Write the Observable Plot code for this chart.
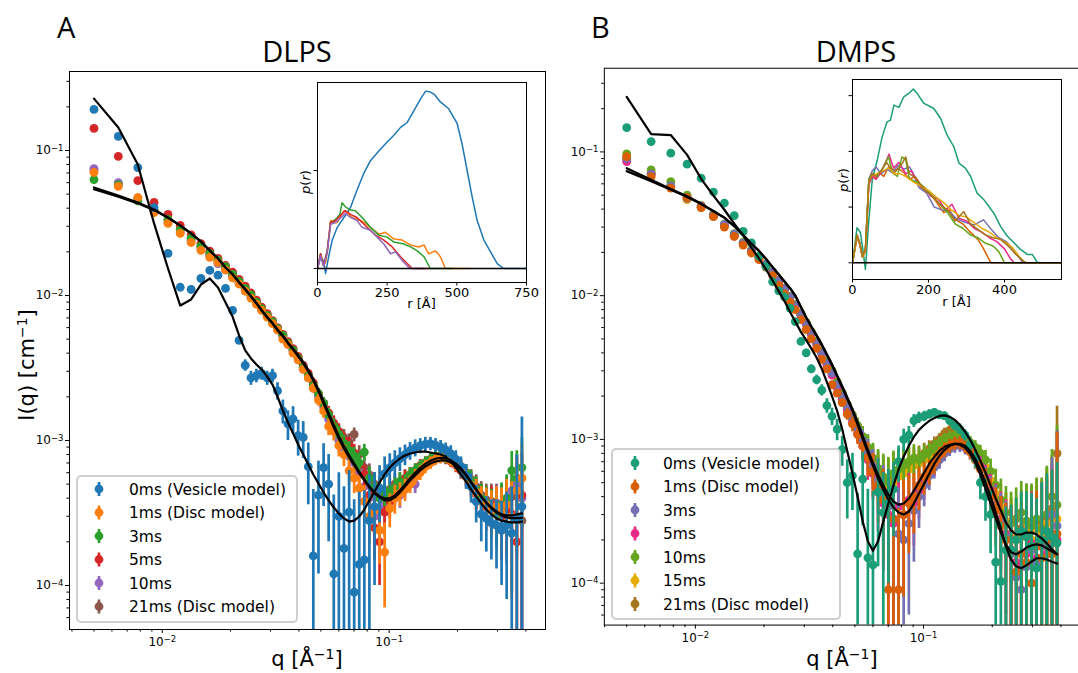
<!DOCTYPE html>
<html><head><meta charset="utf-8">
<script src="https://cdn.jsdelivr.net/npm/d3@7"></script>
<script src="https://cdn.jsdelivr.net/npm/@observablehq/plot@0.6"></script>
<style>
html,body{margin:0;padding:0;width:1078px;height:673px;overflow:hidden;background:#fff}
body{position:relative;font-family:"DejaVu Sans",sans-serif}
.abs{position:absolute}
</style></head><body>
<div id="mainA" class="abs" style="left:0;top:0"></div>
<div id="mainB" class="abs" style="left:560px;top:0"></div>
<div id="insetA" class="abs" style="left:297px;top:78px"></div>
<div id="insetB" class="abs" style="left:832px;top:75px"></div>
<div id="overlay" class="abs" style="left:0;top:0"></div>
<script>
// ---------------- DATA ----------------
const q = [0.0050,0.0064,0.0078,0.0092,0.0106,0.0120,0.0134,0.0148,0.0162,0.0176,
0.0190,0.0204,0.0218,0.0232,0.0246,0.0260,0.0274,0.0290,0.0306,0.0322,
0.0340,0.0358,0.0377,0.0397,0.0418,0.0440,0.0463,0.0488,0.0514,0.0541,
0.0570,0.0600,0.0632,0.0666,0.0701,0.0738,0.0777,0.0818,0.0862,0.0907,
0.0955,0.1006,0.1059,0.1115,0.1174,0.1236,0.1302,0.1371,0.1443,0.1520,
0.1600,0.1685,0.1774,0.1868,0.1967,0.2071,0.2181,0.2296,0.2418,0.2546,
0.2680,0.2822,0.2972,0.3129,0.3295,0.3469,0.3653,0.3846];

// Panel A (DLPS)
const namesA = ["0ms (Vesicle model)","1ms (Disc model)","3ms","5ms","10ms","21ms (Disc model)"];
const colorsA = ["#1f77b4","#ff7f0e","#2ca02c","#d62728","#9467bd","#8c564b"];
const A_0ms = [0.192,0.125,0.0763,0.0404,0.0195,0.0114,0.0110,0.0131,0.0149,0.0138,
0.0112,0.0079,0.0049,0.0033,0.0027,0.0028,0.0029,0.0027,0.0028,0.0022,
0.0016,0.0013,0.00141,0.00108,0.00105,0.00066,0.00016,0.00042,0.00065,0.00050,
0.00012,0.00030,0.00018,0.00032,0.00009,0.00014,0.00015,0.00028,0.00035,0.00047,
0.00059,0.00065,0.00070,0.00075,0.00080,0.00085,0.00089,0.00092,0.00094,0.00095,
0.00093,0.00090,0.00086,0.00081,0.00074,0.00066,0.00057,0.00048,0.00038,0.00031,
0.00029,0.00027,0.00026,0.00024,0.00026,0.00023,0.00029,0.00035];
const A_1ms = [0.0705,0.0565,0.0474,0.0373,0.0314,0.0268,0.0232,0.0205,0.0183,0.0169,
0.0150,0.0132,0.0120,0.0107,0.0096,0.0087,0.0079,0.0071,0.0064,0.0058,
0.0050,0.0046,0.0040,0.0036,0.0031,0.0027,0.0023,0.0019,0.0016,0.00125,
0.00115,0.00092,0.00080,0.00062,0.00055,0.00047,0.00038,0.00030,0.00033,0.00024,
0.00017,0.00034,0.00040,0.00043,0.00046,0.00050,0.00056,0.00060,0.00066,0.00070,
0.00074,0.00076,0.00077,0.00073,0.00069,0.00063,0.00056,0.00049,0.00044,0.00038,
0.00036,0.00033,0.00035,0.00032,0.00036,0.00030,0.00045,0.00055];
const A_3ms = [0.063,0.058,0.045,0.0385,0.0335,0.0285,0.0250,0.0220,0.0195,0.0175,
0.0158,0.0140,0.0125,0.0112,0.0101,0.0090,0.0081,0.0073,0.0066,0.0059,
0.0053,0.0047,0.0042,0.0037,0.0032,0.0028,0.0024,0.0021,0.0018,0.00150,
0.00125,0.00110,0.00095,0.00085,0.00078,0.00070,0.00083,0.00055,0.00048,0.00040,
0.00045,0.00042,0.00047,0.00052,0.00050,0.00058,0.00062,0.00066,0.00070,0.00074,
0.00077,0.00078,0.00076,0.00074,0.00071,0.00066,0.00060,0.00053,0.00046,0.00040,
0.00037,0.00034,0.00031,0.00036,0.00040,0.00062,0.00055,0.00065];
const A_5ms = [0.142,0.091,0.062,0.0438,0.0362,0.0304,0.0262,0.0228,0.0202,0.0180,
0.0161,0.0145,0.0129,0.0116,0.0104,0.0093,0.0083,0.0075,0.0067,0.0060,
0.0054,0.0048,0.0043,0.0038,0.0033,0.0029,0.0025,0.0021,0.0018,0.00155,
0.00132,0.00115,0.00100,0.00092,0.00082,0.00068,0.00058,0.00042,0.00025,0.00020,
0.00032,0.00038,0.00044,0.00047,0.00054,0.00058,0.00060,0.00067,0.00070,0.00073,
0.00075,0.00077,0.00075,0.00072,0.00068,0.00062,0.00058,0.00050,0.00043,0.00039,
0.00035,0.00036,0.00033,0.00030,0.00034,0.00031,0.00020,0.00042];
const A_10ms = [0.075,0.060,0.047,0.0378,0.0320,0.0272,0.0240,0.0212,0.0188,0.0166,
0.0150,0.0134,0.0121,0.0108,0.0097,0.0088,0.0080,0.0072,0.0065,0.0058,
0.0052,0.0046,0.0041,0.0036,0.0031,0.0027,0.0023,0.0020,0.0017,0.00140,
0.00122,0.00100,0.00088,0.00078,0.00070,0.00060,0.00048,0.00040,0.00030,0.00034,
0.00036,0.00040,0.00045,0.00042,0.00048,0.00052,0.00050,0.00063,0.00068,0.00072,
0.00075,0.00076,0.00077,0.00074,0.00070,0.00064,0.00057,0.00051,0.00045,0.00040,
0.00037,0.00035,0.00036,0.00033,0.00038,0.00045,0.00050,0.00040];
const A_21ms = [0.073,0.059,0.047,0.0385,0.0330,0.0285,0.0248,0.0218,0.0193,0.0172,
0.0155,0.0139,0.0124,0.0111,0.0100,0.0090,0.0081,0.0073,0.0066,0.0059,
0.0053,0.0047,0.0042,0.0037,0.0032,0.0028,0.0024,0.0021,0.0018,0.00150,
0.00130,0.00115,0.00105,0.00098,0.00110,0.00080,0.00065,0.00058,0.00050,0.00046,
0.00044,0.00046,0.00050,0.00052,0.00055,0.00058,0.00062,0.00066,0.00070,0.00074,
0.00077,0.00079,0.00078,0.00076,0.00072,0.00066,0.00060,0.00054,0.00048,0.00042,
0.00039,0.00038,0.00037,0.00035,0.00032,0.00041,0.00046,0.00028];
const errA_ves = [0.003,0.002,0.0015,0.001,0.0006,0.0004,0.0004,0.0004,0.0004,0.0004,
0.0004,0.0004,0.0003,0.0003,0.0003,0.0003,0.0003,0.0003,0.0003,0.0003,
0.0003,0.0003,0.0003,0.0003,0.0003,0.0003,0.0003,0.0003,0.0003,0.0003,
0.0003,0.0003,0.0003,0.0003,0.0003,0.0003,0.0003,0.0003,0.00025,0.0002,
0.00018,0.00016,0.00015,0.00014,0.00013,0.00012,0.00012,0.00011,0.00011,0.0001,
0.0001,0.0001,0.0001,0.00011,0.00011,0.00011,0.00011,0.00011,0.00011,0.00011,
0.00012,0.00012,0.00013,0.00014,0.00018,0.00025,0.0005,0.0011];
const errA_disc = [0.0008,0.0006,0.0004,0.0003,0.0002,0.00015,0.00012,0.0001,0.0001,0.0001,
0.0001,0.0001,0.0001,0.0001,0.0001,0.0001,0.0001,0.0001,0.0001,0.0001,
0.00012,0.00012,0.00014,0.00015,0.00016,0.00017,0.00018,0.00018,0.00018,0.00017,
0.00016,0.00015,0.00014,0.00013,0.00012,0.00012,0.00011,0.00011,0.0001,0.0001,
0.0001,0.00009,0.00009,0.00008,0.00008,0.00007,0.00007,0.00007,0.00007,0.00007,
0.00007,0.00007,0.00007,0.00007,0.00008,0.00008,0.00008,0.00009,0.0001,0.0001,
0.00011,0.00012,0.00013,0.00015,0.00018,0.00022,0.0003,0.0004];
const A_modelVesicle = [0.228,0.144,0.0801,0.0314,0.01536,0.00852,0.00939,0.0119,0.0131,0.01136,
0.00895,0.00716,0.0053,0.00418,0.00368,0.00334,0.00309,0.00276,0.00243,0.00201,
0.00161,0.00133,0.00112,0.000938,0.000800,0.000683,0.000583,0.000505,0.000438,0.000386,
0.000345,0.000314,0.00029,0.000276,0.000280,0.000299,0.000334,0.000386,0.000445,0.000513,
0.000583,0.000651,0.000705,0.000751,0.000788,0.000813,0.000826,0.000839,0.000839,0.000826,
0.000813,0.000800,0.000776,0.000716,0.000651,0.000583,0.000522,0.000459,0.000411,0.000368,
0.000334,0.000309,0.00029,0.00028,0.000276,0.000272,0.000272,0.000276];
const A_modelDisc1 = [0.0556,0.0489,0.0438,0.0392,0.0345,0.0304,0.0268,0.0236,0.0204,0.0180,
0.0156,0.0140,0.0123,0.0110,0.00984,0.00881,0.00788,0.00705,0.00641,0.00574,
0.00522,0.00467,0.00424,0.00380,0.00340,0.00299,0.00259,0.00218,0.00180,0.00149,
0.00123,0.00103,0.000881,0.000764,0.000672,0.000592,0.000530,0.000474,0.000431,0.000405,
0.000386,0.000386,0.000405,0.000438,0.000482,0.000530,0.000574,0.000621,0.000662,0.000694,
0.000716,0.000728,0.000728,0.000705,0.000672,0.000631,0.000574,0.000513,0.000459,0.000411,
0.000374,0.000345,0.000324,0.000309,0.000304,0.000304,0.000309,0.000314];
const A_modelDisc2 = [0.0540,0.0480,0.0432,0.0388,0.0343,0.0303,0.0267,0.0235,0.0204,0.0180,
0.0156,0.0140,0.0124,0.0111,0.00990,0.00890,0.00795,0.00712,0.00648,0.00582,
0.00530,0.00475,0.00432,0.00388,0.00348,0.00307,0.00266,0.00225,0.00186,0.00154,
0.00128,0.00107,0.000915,0.000790,0.000692,0.000608,0.000540,0.000482,0.000440,0.000412,
0.000398,0.000400,0.000418,0.000452,0.000498,0.000548,0.000598,0.000648,0.000690,0.000725,
0.000748,0.000760,0.000755,0.000730,0.000692,0.000642,0.000582,0.000518,0.000460,0.000410,
0.000370,0.000340,0.000318,0.000303,0.000295,0.000291,0.000291,0.000293];

// Panel B (DMPS)
const namesB = ["0ms (Vesicle model)","1ms (Disc model)","3ms","5ms","10ms","15ms","21ms (Disc model)"];
const colorsB = ["#1b9e77","#d95f02","#7570b3","#e7298a","#66a61e","#e6ab02","#a6761d"];
const B_0ms = [0.1474,0.118,0.098,0.0822,0.0657,0.0526,0.0441,0.036,0.028,0.0233,
0.0188,0.016,0.0125,0.0108,0.0098,0.0082,0.0066,0.0048,0.0040,0.0031,
0.0026,0.0022,0.00172,0.00145,0.00118,0.00085,0.00050,0.00056,0.00016,0.00053,
0.00015,0.000134,0.00043,0.00031,0.00036,0.00045,0.00070,0.00100,0.00107,0.00135,
0.00142,0.00145,0.00150,0.00154,0.00148,0.00146,0.00135,0.00125,0.00118,0.00107,
0.00092,0.00074,0.00050,0.00040,0.00030,0.00014,0.000103,0.00017,0.00017,0.00020,
0.00023,0.00021,0.00018,0.000127,0.00020,0.00023,0.00021,0.00019];
const B_1ms = [0.0928,0.0674,0.056,0.048,0.041,0.0355,0.0300,0.0258,0.0225,0.0198,
0.0178,0.0158,0.0138,0.0118,0.0103,0.0090,0.0080,0.0068,0.0058,0.0050,
0.0043,0.0036,0.0031,0.0024,0.0021,0.0018,0.00150,0.00128,0.00108,0.00090,
0.00075,0.00060,0.00048,0.00038,0.00009,0.00028,0.00009,0.00030,0.00036,0.00040,
0.00048,0.00055,0.00060,0.00068,0.00078,0.00085,0.00090,0.00094,0.00095,0.00090,
0.00082,0.00072,0.00062,0.00050,0.00040,0.00032,0.00025,0.00020,0.00017,0.00012,
0.00016,0.00014,0.00010,0.00018,0.00015,0.00020,0.00016,0.00022];
const B_3ms = [0.090,0.070,0.058,0.0475,0.0415,0.0362,0.0312,0.0268,0.0232,0.0205,
0.0185,0.0165,0.0146,0.0128,0.0112,0.0098,0.0086,0.0074,0.0064,0.0055,
0.0047,0.0040,0.0034,0.0029,0.0024,0.0020,0.00168,0.00140,0.00118,0.00098,
0.00080,0.00065,0.00052,0.00042,0.00034,0.00028,0.00022,0.00020,0.00026,0.00032,
0.00040,0.00048,0.00056,0.00064,0.00072,0.00080,0.00086,0.00090,0.00091,0.00088,
0.00082,0.00074,0.00063,0.00052,0.00042,0.00034,0.00027,0.00021,0.00016,0.00011,
0.00009,0.00013,0.00017,0.00014,0.00020,0.00018,0.00030,0.00025];
const B_5ms = [0.0857,0.070,0.057,0.048,0.042,0.0360,0.0308,0.0259,0.0230,0.0203,
0.0182,0.0162,0.0143,0.0125,0.0110,0.0097,0.0085,0.0073,0.0063,0.0054,
0.0046,0.0039,0.0033,0.0028,0.0023,0.0019,0.00160,0.00132,0.00110,0.00090,
0.00072,0.00058,0.00045,0.00036,0.00030,0.00026,0.00034,0.00030,0.00038,0.00036,
0.00044,0.00052,0.00059,0.00066,0.00074,0.00082,0.00088,0.00092,0.00093,0.00090,
0.00084,0.00075,0.00065,0.00054,0.00044,0.00035,0.00028,0.00022,0.00017,0.00014,
0.00013,0.00016,0.00019,0.00015,0.00018,0.00016,0.00022,0.00020];
const B_10ms = [0.0968,0.075,0.0622,0.050,0.0425,0.0368,0.0315,0.0270,0.0236,0.0208,
0.0187,0.0166,0.0147,0.0129,0.0113,0.0099,0.0087,0.0075,0.0065,0.0056,
0.0048,0.0041,0.0035,0.0030,0.0025,0.0021,0.00175,0.00148,0.00125,0.00105,
0.00088,0.00074,0.00063,0.00055,0.00050,0.00058,0.00062,0.00066,0.00070,0.00074,
0.00072,0.00078,0.00082,0.00088,0.00094,0.00100,0.00104,0.00106,0.00104,0.00100,
0.00095,0.00088,0.00080,0.00072,0.00060,0.00048,0.00038,0.00031,0.00026,0.00028,
0.00031,0.00027,0.00025,0.00028,0.00024,0.00030,0.00040,0.00035];
const B_15ms = [0.090,0.072,0.058,0.0465,0.041,0.0358,0.0305,0.0262,0.0230,0.0204,
0.0183,0.0163,0.0145,0.0127,0.0111,0.0098,0.0086,0.0074,0.0064,0.0055,
0.0047,0.0040,0.0034,0.0029,0.0024,0.0020,0.00168,0.00140,0.00118,0.00098,
0.00080,0.00066,0.00055,0.00048,0.00045,0.00050,0.00055,0.00058,0.00062,0.00066,
0.00068,0.00072,0.00078,0.00085,0.00092,0.00098,0.00102,0.00104,0.00102,0.00098,
0.00092,0.00084,0.00075,0.00064,0.00052,0.00042,0.00034,0.00027,0.00022,0.00020,
0.00021,0.00023,0.00020,0.00024,0.00022,0.00026,0.00030,0.00028];
const B_21ms = [0.089,0.071,0.058,0.0475,0.0412,0.0360,0.0308,0.0265,0.0233,0.0206,
0.0185,0.0165,0.0146,0.0128,0.0112,0.0099,0.0087,0.0075,0.0065,0.0056,
0.0048,0.0041,0.0035,0.0030,0.0025,0.0021,0.00172,0.00145,0.00122,0.00102,
0.00085,0.00070,0.00060,0.00052,0.00048,0.00055,0.00060,0.00063,0.00067,0.00070,
0.00074,0.00080,0.00086,0.00093,0.00100,0.00110,0.00116,0.00112,0.00106,0.00100,
0.00093,0.00084,0.00074,0.00062,0.00050,0.00040,0.00032,0.00026,0.00022,0.00021,
0.00024,0.00027,0.00023,0.00026,0.00022,0.00028,0.00033,0.00080];
const errB_ves = [0.002,0.0015,0.001,0.0008,0.0006,0.0005,0.0004,0.0003,0.0003,0.0003,
0.0003,0.0002,0.0002,0.0002,0.0002,0.0002,0.0002,0.0002,0.0002,0.0002,
0.0002,0.0002,0.0002,0.0002,0.0002,0.0002,0.00022,0.00024,0.00026,0.00028,
0.0003,0.0003,0.0003,0.00028,0.00026,0.00024,0.0002,0.00018,0.00016,0.00014,
0.00013,0.00012,0.00011,0.0001,0.0001,0.0001,0.0001,0.0001,0.0001,0.0001,
0.0001,0.00011,0.00012,0.00013,0.00014,0.00015,0.00016,0.00017,0.00018,0.00019,
0.0002,0.00022,0.00024,0.00026,0.0003,0.00035,0.0004,0.0005];
const errB_disc = [0.001,0.0008,0.0006,0.0005,0.0004,0.0003,0.0003,0.0002,0.0002,0.0002,
0.00015,0.00015,0.00015,0.00012,0.00012,0.00012,0.0001,0.0001,0.0001,0.0001,
0.0001,0.0001,0.0001,0.0001,0.00012,0.00012,0.00014,0.00015,0.00016,0.00018,
0.0002,0.0002,0.00022,0.00024,0.00025,0.00025,0.00024,0.00022,0.0002,0.00018,
0.00016,0.00014,0.00012,0.00011,0.0001,0.0001,0.0001,0.0001,0.0001,0.0001,
0.0001,0.0001,0.00011,0.00012,0.00013,0.00014,0.00015,0.00016,0.00017,0.00018,
0.0002,0.00022,0.00024,0.00026,0.0003,0.00035,0.00045,0.0009];
const B_modelVesicle = [0.2416,0.133,0.131,0.0953,0.065,0.0496,0.0396,0.0317,0.0262,0.0216,
0.01814,0.01522,0.01276,0.01071,0.00913,0.0077,0.0066,0.0056,0.0049,0.0043,
0.0037,0.0031,0.0025,0.0020,0.00158,0.00118,0.00083,0.00058,0.00040,0.00027,
0.000196,0.000168,0.000196,0.000268,0.000358,0.000477,0.000616,0.000758,0.000903,0.00104,
0.001165,0.00126,0.001345,0.00141,0.001457,0.00147,0.001434,0.001367,0.00126,0.00113,
0.000994,0.000847,0.000711,0.000587,0.000477,0.000388,0.00032,0.000264,0.000233,0.000218,
0.000218,0.000225,0.000225,0.000218,0.000205,0.000189,0.000172,0.000159];
const B_modelDisc1 = [0.0771,0.0640,0.0553,0.0491,0.0437,0.0388,0.0349,0.0305,0.0264,0.0230,
0.0205,0.0180,0.0158,0.01405,0.01256,0.01129,0.01005,0.00836,0.00708,0.00613,
0.00531,0.00460,0.00392,0.00334,0.00280,0.00235,0.00197,0.00163,0.00132,0.00106,
0.000847,0.000689,0.000569,0.000477,0.000413,0.00037,0.000352,0.000358,0.000388,0.00044,
0.000508,0.000587,0.000678,0.000758,0.000834,0.000889,0.000918,0.000932,0.000918,0.000875,
0.000795,0.000689,0.000569,0.000455,0.000358,0.000282,0.000225,0.000186,0.000164,0.000159,
0.000166,0.000177,0.000183,0.000186,0.000183,0.000175,0.000166,0.000159];
const B_modelDisc2 = [0.0735,0.0625,0.0545,0.0486,0.0434,0.0386,0.0348,0.0304,0.0264,0.0230,
0.0205,0.0180,0.0158,0.01400,0.01250,0.01122,0.00998,0.00830,0.00702,0.00607,
0.00525,0.00454,0.00386,0.00328,0.00274,0.00229,0.00191,0.00158,0.00127,0.00101,
0.00081,0.000655,0.000535,0.000447,0.000382,0.000336,0.00031,0.0003,0.000315,0.000358,
0.00042,0.000492,0.000578,0.000678,0.00077,0.000847,0.000903,0.000932,0.000932,0.000903,
0.000834,0.000734,0.000616,0.0005,0.0004,0.00031,0.00024,0.00018,0.000146,0.000131,
0.000127,0.000133,0.000141,0.000149,0.000149,0.000146,0.000141,0.000137];

// Inset p(r) curves: [r (Å), p(r) arbitrary units]
const prA_0ms = [[0,0],[10,0.1],[22,0.08],[29,-0.05],[40,0.12],[53,0.29],[71,0.42],[95,0.52],[118,0.62],[142,0.8],[166,0.97],[190,1.1],[220,1.2],[250,1.29],[274,1.36],[298,1.44],[322,1.49],[346,1.61],[370,1.73],[388,1.81],[405,1.8],[418,1.78],[441,1.7],[471,1.63],[501,1.48],[519,1.27],[537,1.0],[555,0.73],[573,0.49],[597,0.29],[621,0.17],[645,0.05],[668,0.0],[750,0]];
const prA_1ms = [[0,0],[11,0.15],[22,0.03],[29,0.06],[35,0.18],[47,0.49],[58,0.47],[71,0.47],[95,0.59],[110,0.56],[125,0.52],[154,0.49],[172,0.46],[190,0.42],[220,0.35],[244,0.37],[274,0.3],[304,0.29],[334,0.24],[364,0.22],[382,0.24],[399,0.15],[423,0.18],[441,0.12],[459,0],[550,0]];
const prA_3ms = [[0,0],[11,0.15],[22,0.03],[35,0.18],[47,0.47],[65,0.5],[80,0.55],[88,0.67],[100,0.63],[115,0.6],[136,0.59],[160,0.52],[190,0.42],[220,0.34],[250,0.32],[274,0.27],[310,0.25],[334,0.22],[358,0.18],[382,0.12],[405,0],[480,0]];
const prA_5ms = [[0,0],[11,0.15],[22,0.03],[35,0.18],[47,0.47],[65,0.49],[85,0.55],[100,0.59],[120,0.55],[142,0.52],[160,0.47],[178,0.42],[208,0.34],[238,0.29],[268,0.22],[298,0.12],[322,0.05],[340,0],[400,0]];
const prA_10ms = [[0,0],[11,0.13],[22,0.02],[35,0.16],[47,0.45],[65,0.47],[85,0.52],[100,0.56],[120,0.52],[142,0.49],[160,0.42],[190,0.39],[214,0.32],[238,0.25],[262,0.15],[280,0.17],[304,0.08],[328,0.01],[333,0],[380,0]];
const prB_0ms = [[0,0],[12,0.63],[21,0.54],[28,0.2],[34,-0.12],[43,0.77],[52,1.49],[65,1.84],[78,2.26],[91,2.53],[100,2.56],[109,2.83],[122,2.79],[135,2.98],[148,3.04],[160,3.12],[170,3.04],[188,2.86],[214,2.77],[232,2.59],[249,2.29],[267,2.08],[280,1.79],[297,1.7],[311,1.55],[328,1.25],[346,1.13],[359,1.01],[372,0.89],[390,0.65],[407,0.48],[425,0.36],[442,0.24],[460,0.15],[473,0.15],[486,0.01],[495,0],[550,0]];
const prB_1ms = [[0,0],[12,0.48],[19,0.35],[26,0.1],[34,0.2],[43,1.45],[52,1.6],[60,1.5],[70,1.62],[82,1.55],[95,1.72],[108,1.6],[120,1.7],[135,1.62],[150,1.5],[165,1.55],[180,1.35],[200,1.28],[220,1.1],[240,0.9],[255,0.95],[270,0.78],[290,0.7],[310,0.55],[330,0.42],[345,0.25],[360,0.05],[365,0],[550,0]];
const prB_3ms = [[0,0],[12,0.5],[19,0.35],[26,0.12],[34,0.25],[43,1.5],[52,1.65],[62,1.72],[75,1.6],[90,1.68],[105,1.62],[120,1.75],[135,1.68],[150,1.72],[160,1.6],[175,1.35],[195,1.25],[215,1.0],[235,0.95],[255,0.92],[275,0.78],[300,0.72],[320,0.68],[345,0.77],[365,0.6],[385,0.45],[405,0.38],[425,0.22],[445,0.03],[455,0],[550,0]];
const prB_5ms = [[0,0],[12,0.45],[19,0.33],[26,0.1],[34,0.22],[43,1.4],[52,1.55],[62,1.5],[75,1.62],[90,1.85],[96,1.95],[108,1.7],[122,1.8],[140,1.6],[155,1.65],[170,1.45],[190,1.35],[205,1.2],[225,1.15],[245,0.95],[262,1.05],[280,0.8],[300,0.75],[320,0.62],[340,0.55],[360,0.45],[380,0.38],[400,0.25],[415,0.08],[425,0],[550,0]];
const prB_10ms = [[0,0],[12,0.5],[19,0.36],[26,0.12],[34,0.25],[43,1.5],[52,1.6],[65,1.55],[80,1.7],[95,1.9],[105,1.62],[118,1.55],[130,1.9],[140,1.85],[150,1.5],[170,1.45],[190,1.35],[210,1.2],[230,1.05],[250,0.9],[270,0.7],[290,0.62],[310,0.5],[330,0.45],[350,0.35],[370,0.3],[385,0.2],[400,0],[550,0]];
const prB_15ms = [[0,0],[12,0.46],[19,0.34],[26,0.1],[34,0.22],[43,1.45],[52,1.58],[65,1.6],[80,1.65],[95,1.7],[110,1.6],[125,1.6],[140,1.55],[160,1.45],[180,1.38],[200,1.3],[220,1.18],[240,1.08],[260,0.95],[280,0.85],[300,0.82],[320,0.72],[340,0.62],[360,0.55],[380,0.45],[400,0.38],[420,0.28],[440,0.1],[455,0],[550,0]];
const prB_21ms = [[0,0],[12,0.5],[19,0.36],[26,0.12],[34,0.25],[43,1.45],[52,1.6],[62,1.55],[75,1.65],[90,1.8],[100,1.7],[115,1.65],[128,1.75],[140,1.9],[150,1.6],[170,1.5],[190,1.3],[210,1.2],[230,1.05],[250,0.95],[270,0.75],[293,0.92],[310,0.7],[330,0.6],[350,0.5],[370,0.45],[390,0.42],[410,0.3],[430,0.15],[450,0.03],[458,0],[550,0]];

// Ticks
const majorX = [0.01, 0.1];
const minorX = [0.004,0.005,0.006,0.007,0.008,0.009,0.02,0.03,0.04,0.05,0.06,0.07,0.08,0.09,0.2,0.3,0.4];
const majorY = [1e-4,1e-3,1e-2,1e-1];
const minorY = [6e-5,7e-5,8e-5,9e-5,2e-4,3e-4,4e-4,5e-4,6e-4,7e-4,8e-4,9e-4,
  2e-3,3e-3,4e-3,5e-3,6e-3,7e-3,8e-3,9e-3,0.02,0.03,0.04,0.05,0.06,0.07,0.08,0.09,0.2,0.3];

// ---------------- DRAWING ----------------
const NS = "http://www.w3.org/2000/svg";
function decadeLabel(d){ const e = Math.round(Math.log10(d)); return "10^" + (e<0 ? "\u2212" : "") + Math.abs(e); }
function supLabels(svg, supSize){
  svg.querySelectorAll("text").forEach(t=>{
    const m = /^10\^(.+)$/.exec(t.textContent);
    if(!m) return;
    t.textContent = "";
    const a = document.createElementNS(NS,"tspan"); a.textContent = "10";
    const b = document.createElementNS(NS,"tspan"); b.textContent = m[1];
    b.setAttribute("dy","-0.42em"); b.setAttribute("font-size", supSize);
    t.append(a,b);
  });
}
function rows(I, err, floor){
  return q.map((qq,i)=>({q:qq, I:I[i], lo:Math.max(I[i]-err[i], floor), hi:I[i]+err[i]}));
}
function mainPanel(o){
  const marks = [];
  for (const s of o.series.slice().reverse()){
    const r = rows(s.I, s.err, o.ydom[0]/20);
    marks.push(Plot.ruleX(r,{x:"q",y1:"lo",y2:"hi",stroke:s.color,strokeWidth:2.7,clip:true}));
    marks.push(Plot.dot(r,{x:"q",y:"I",r:4.4,fill:s.color,clip:true}));
  }
  for (const m of o.models){
    marks.push(Plot.line(q.map((qq,i)=>({q:qq,I:m[i]})),{x:"q",y:"I",stroke:"#000",strokeWidth:2.2,clip:true}));
  }
  marks.push(Plot.frame({stroke:"#000",strokeWidth:1}));
  marks.push(Plot.axisX({ticks:majorX,tickFormat:decadeLabel,tickSize:4,tickPadding:4,fontSize:12,label:null}));
  marks.push(Plot.axisX({ticks:minorX,tickFormat:()=>"",tickSize:2.6,label:null}));
  marks.push(Plot.axisY({ticks:majorY,tickFormat:decadeLabel,tickSize:4,tickPadding:2,fontSize:12,label:null}));
  marks.push(Plot.axisY({ticks:minorY,tickFormat:()=>"",tickSize:2.6,label:null}));
  const svg = Plot.plot({width:o.width,height:o.height,marginLeft:o.ml,marginRight:o.mr,marginTop:o.mt,marginBottom:o.mb,
    x:{type:"log",domain:o.xdom}, y:{type:"log",domain:o.ydom},
    style:{fontFamily:"DejaVu Sans",fontSize:"12px",color:"#000",background:"transparent",overflow:"hidden"},
    marks});
  supLabels(svg,"8.5px");
  return svg;
}
function insetPanel(o){
  const marks = [Plot.frame({fill:"#fff",stroke:null})];
  for (const c of o.curves){
    marks.push(Plot.line(c.pts,{x:d=>d[0],y:d=>d[1],stroke:c.color,strokeWidth:1.5,clip:true}));
  }
  marks.push(Plot.ruleY([0],{stroke:"#000",strokeWidth:1.5}));
  marks.push(Plot.frame({stroke:"#000",strokeWidth:1}));
  marks.push(Plot.axisX({ticks:o.xticks,tickSize:3.5,tickPadding:2,fontSize:13,label:null,tickFormat:d=>String(d)}));
  marks.push(Plot.axisY({ticks:o.yticks,tickSize:3.5,tickFormat:()=>"",label:null}));
  return Plot.plot({width:o.width,height:o.height,marginLeft:o.ml,marginRight:o.mr,marginTop:o.mt,marginBottom:o.mb,
    x:{domain:o.xdom}, y:{domain:o.ydom},
    style:{fontFamily:"DejaVu Sans",fontSize:"13px",color:"#000",background:"transparent",overflow:"visible"},
    marks});
}

const seriesA = [A_0ms,A_1ms,A_3ms,A_5ms,A_10ms,A_21ms].map((I,i)=>({I, color:colorsA[i], err: i===0 ? errA_ves : errA_disc}));
const seriesB = [B_0ms,B_1ms,B_3ms,B_5ms,B_10ms,B_15ms,B_21ms].map((I,i)=>({I, color:colorsB[i], err: i===0 ? errB_ves : errB_disc}));

document.getElementById("mainA").append(mainPanel({width:560,height:673,ml:69,mr:15,mt:71,mb:44,
  xdom:[0.0039,0.4886], ydom:[4.97e-5,0.3506], series:seriesA, models:[A_modelVesicle,A_modelDisc1,A_modelDisc2]}));
document.getElementById("mainB").append(mainPanel({width:520,height:673,ml:44,mr:0,mt:68,mb:46,
  xdom:[0.00399,0.4775], ydom:[5.11e-5,0.382], series:seriesB, models:[B_modelVesicle,B_modelDisc1,B_modelDisc2]}));

document.getElementById("insetA").append(insetPanel({width:239,height:236,ml:20,mr:10,mt:4,mb:32,
  xdom:[0,750], ydom:[-0.143,1.898], xticks:[0,250,500,750], yticks:[0,1],
  curves:[prA_0ms,prA_1ms,prA_3ms,prA_5ms,prA_10ms].map((pts,i)=>({pts,color:colorsA[i]}))}));
document.getElementById("insetB").append(insetPanel({width:239,height:237,ml:20,mr:10,mt:4,mb:33,
  xdom:[0,550], ydom:[-0.30,3.29], xticks:[0,200,400], yticks:[0,1,2,3],
  curves:[prB_0ms,prB_1ms,prB_3ms,prB_5ms,prB_10ms,prB_15ms,prB_21ms].map((pts,i)=>({pts,color:colorsB[i]}))}));

// ---------------- TEXT OVERLAY & LEGENDS ----------------
function legendSVG(names, colors, box, y0, step, mx, tx){
  let s = `<rect x="${box[0]}" y="${box[1]}" width="${box[2]}" height="${box[3]}" rx="4" fill="#fff" fill-opacity="0.8" stroke="#cfcfcf" stroke-width="2"/>`;
  names.forEach((n,i)=>{
    const cy = y0 + i*step;
    s += `<line x1="${mx}" x2="${mx}" y1="${cy-7}" y2="${cy+7}" stroke="${colors[i]}" stroke-width="2.7"/>`;
    s += `<circle cx="${mx}" cy="${cy}" r="4.4" fill="${colors[i]}"/>`;
    s += `<text x="${tx}" y="${cy+5.5}" font-size="15.5" font-family="DejaVu Sans">${n}</text>`;
  });
  return s;
}
const sup = (t)=>`<tspan dy="-7" font-size="14">${t}</tspan><tspan dy="7">]</tspan>`;
let ov = `<svg xmlns="${NS}" width="1078" height="673" style="display:block">`;
ov += `<text x="57" y="38" font-family="Open Sans" font-size="29">A</text>`;
ov += `<text x="591" y="38" font-family="Open Sans" font-size="29">B</text>`;
ov += `<text x="297" y="62" text-anchor="middle" font-family="Open Sans" font-size="29">DLPS</text>`;
ov += `<text x="856" y="62" text-anchor="middle" font-family="Open Sans" font-size="29">DMPS</text>`;
ov += `<text x="307" y="666" text-anchor="middle" font-family="DejaVu Sans" font-size="21">q [Å${sup("\u22121")}</text>`;
ov += `<text x="842" y="666" text-anchor="middle" font-family="DejaVu Sans" font-size="21">q [Å${sup("\u22121")}</text>`;
ov += `<text transform="translate(34,365) rotate(-90)" text-anchor="middle" font-family="DejaVu Sans" font-size="21">I(q) [cm${sup("\u22121")}</text>`;
ov += `<text x="421.5" y="308" text-anchor="middle" font-family="DejaVu Sans" font-size="13">r [Å]</text>`;
ov += `<text x="956.5" y="306" text-anchor="middle" font-family="DejaVu Sans" font-size="13">r [Å]</text>`;
ov += `<text transform="translate(310,182) rotate(-90)" text-anchor="middle" font-family="DejaVu Sans" font-size="13"><tspan font-style="italic">p</tspan>(<tspan font-style="italic">r</tspan>)</text>`;
ov += `<text transform="translate(848,180) rotate(-90)" text-anchor="middle" font-family="DejaVu Sans" font-size="13"><tspan font-style="italic">p</tspan>(<tspan font-style="italic">r</tspan>)</text>`;
ov += legendSVG(namesA, colorsA, [77,476,220,146], 489, 23.5, 99, 129);
ov += legendSVG(namesB, colorsB, [612,449,228,170], 463, 23.5, 635, 663);
ov += `</svg>`;
document.getElementById("overlay").innerHTML = ov;
</script>
</body></html>
